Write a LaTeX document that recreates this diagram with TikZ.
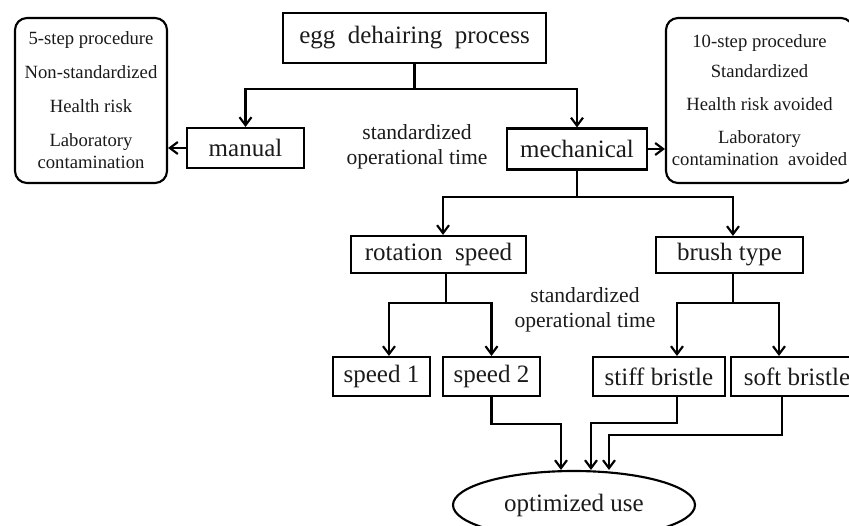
\documentclass[tikz,border=0pt]{standalone}
\usepackage{fontspec}
\setmainfont{Liberation Serif}
\usetikzlibrary{arrows.meta,positioning,shapes.geometric}
\definecolor{inkgray}{HTML}{1A1A1A}

\begin{document}
\begin{tikzpicture}[
    x=0.75pt,
    y=-0.75pt,
    font=\fontsize{18.75}{22}\selectfont,
    box/.style={rectangle, draw=black, line width=1.6pt, inner sep=0pt, text=inkgray},
    listbox/.style={rectangle, rounded corners=9pt, draw=black, line width=1.6pt, inner sep=0pt, align=center, text=inkgray, font=\fontsize{14}{17}\selectfont},
    note/.style={align=center, inner sep=0pt, text=inkgray, font=\fontsize{16.2}{19}\selectfont},
    goal/.style={ellipse, draw=black, line width=1.6pt, inner sep=0pt, text=inkgray},
    edge/.style={-{Straight Barb[length=6pt,width=9pt]}, line width=1.6pt, draw=black}
  ]
    \path[use as bounding box, clip] (0,0) rectangle (849,525);

    \node[box, minimum width=197.25pt, minimum height=37.5pt] (top) at (414.5,38) {egg\enspace dehairing\enspace process};
    \node[box, minimum width=87.75pt, minimum height=30pt] (manual) at (245.5,148) {manual};
    \node[box, minimum width=105pt, minimum height=30.75pt] (mech) at (577,149) {mechanical};
    \node[listbox, minimum width=114pt, minimum height=123.75pt] (leftbox) at (91,100.5) {5-step procedure\\[8.5pt]Non-standardized\\[8.5pt]Health risk\\[8pt]Laboratory\\contamination};
    \node[listbox, minimum width=140.25pt, minimum height=123.75pt] (rightbox) at (759.5,100.5) {10-step procedure\\[5.5pt]Standardized\\[7.75pt]Health risk avoided\\[7.75pt]Laboratory\\[-0.5pt]contamination\enspace avoided};
    \node[note] (note1) at (417,147) {standardized\\operational time};

    \node[box, minimum width=131.25pt, minimum height=27.75pt] (rot) at (438.5,254.5) {rotation\enspace speed};
    \node[box, minimum width=110.25pt, minimum height=27pt] (brush) at (729.5,255) {brush type};
    \node[note] (note2) at (585,310) {standardized\\operational time};

    \node[box, minimum width=72.75pt, minimum height=29.25pt] (sp1) at (381.5,376.5) {speed 1};
    \node[box, minimum width=72.75pt, minimum height=29.25pt] (sp2) at (491.5,376.5) {speed 2};
    \node[box, minimum width=99pt, minimum height=29.25pt] (stiff) at (659,376.5) {stiff bristle};
    \node[box, minimum width=99pt, minimum height=29.25pt] (soft) at (797,376.5) {soft bristle};
    \node[goal, minimum width=181.5pt, minimum height=51pt] (opt) at (574,505) {\raisebox{3pt}{optimized use}};

    \draw[edge] (top.south) -- ++(0,25) -| (manual);
    \draw[edge] (top.south) -- ++(0,25) -| (mech);
    \draw[edge] (manual.west) -- (manual.west -| leftbox.east);
    \draw[edge] (mech.east) -- (mech.east -| rightbox.west);

    \draw[edge] (mech.south) -- ++(0,26) -| ([xshift=3.4pt]rot.north);
    \draw[edge] (mech.south) -- ++(0,26) -| ([xshift=2.6pt]brush.north);

    \draw[edge] ([xshift=5.6pt]rot.south) -- ++(0,29) -| ([xshift=5.6pt]sp1.north);
    \draw[edge] ([xshift=5.6pt]rot.south) -- ++(0,29) -| (sp2.north);
    \draw[edge] ([xshift=2.6pt]brush.south) -- ++(0,29) -| ([xshift=13.5pt]stiff.north);
    \draw[edge] ([xshift=2.6pt]brush.south) -- ++(0,29) -| ([xshift=-13.5pt]soft.north);

    \draw[edge] (sp2.south) -- ++(0,27) -| ([xshift=-9.75pt]opt.north);
    \draw[edge] ([xshift=13.5pt]stiff.south) -- ++(0,26) -| ([xshift=12.75pt]opt.north);
    \draw[edge] ([xshift=-11.25pt]soft.south) -- ++(0,38) -| ([xshift=26.25pt]opt.north);
  \end{tikzpicture}
\end{document}
